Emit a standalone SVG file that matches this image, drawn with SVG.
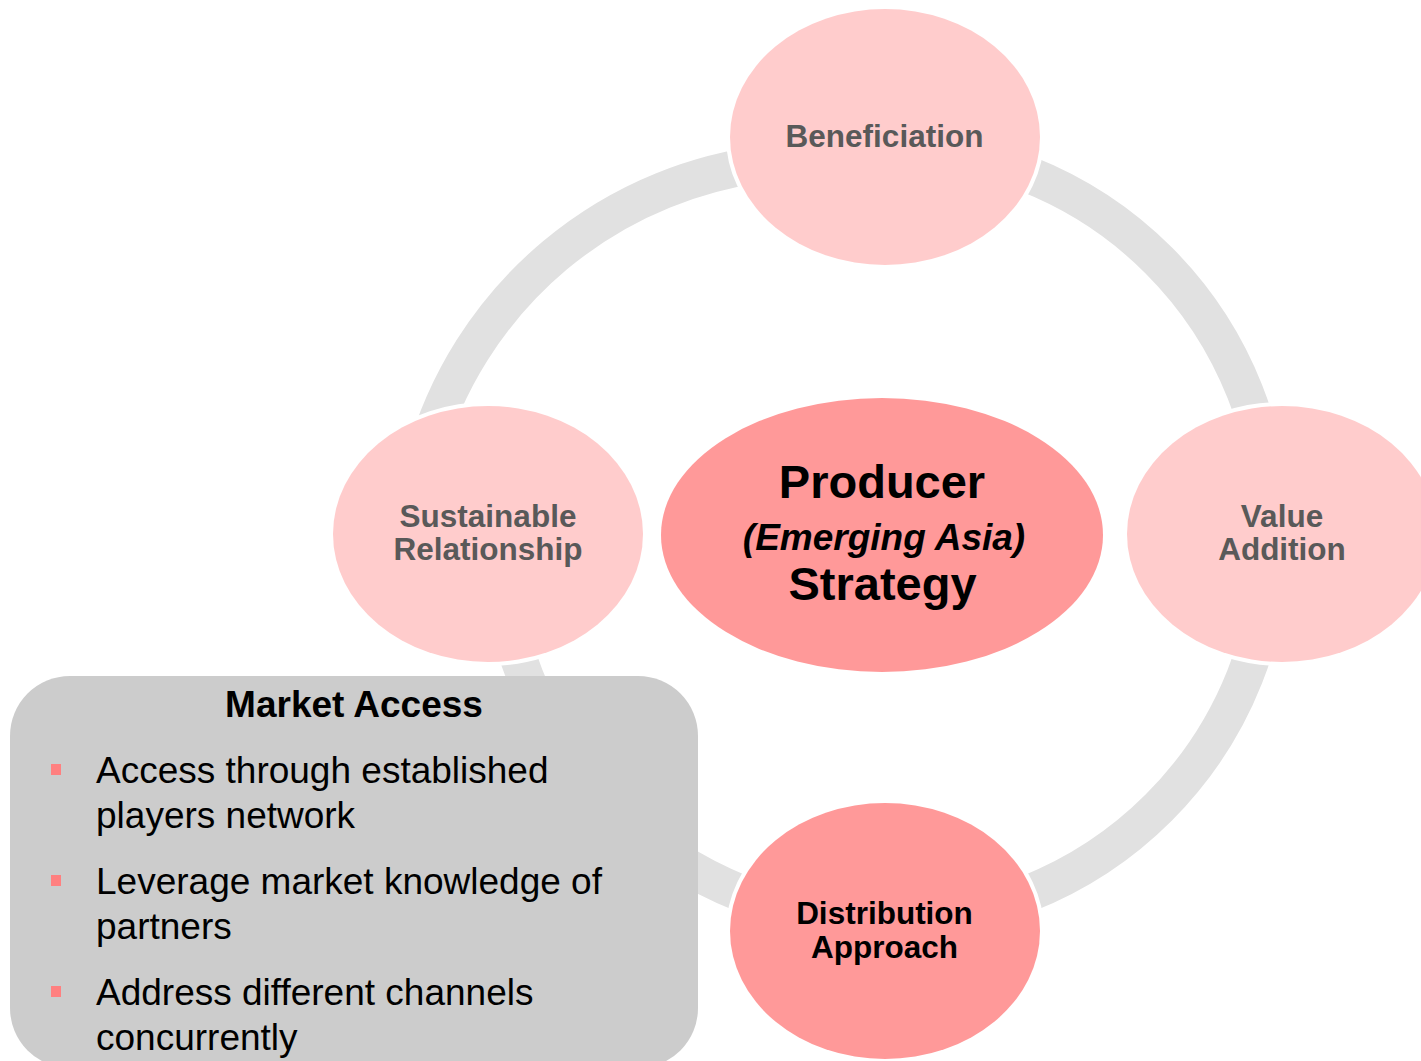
<svg xmlns="http://www.w3.org/2000/svg" width="1421" height="1061" viewBox="0 0 1421 1061">
<style>
.arc{fill:none;stroke:#e1e1e1;stroke-width:37;stroke-linecap:butt}
.node{stroke:#ffffff;stroke-width:8;paint-order:stroke fill}
.light{fill:#ffcccc}
.dark{fill:#ff9999}
.lbl{font-family:"Liberation Sans",Arial,sans-serif;font-weight:bold;font-size:31.5px;fill:#595959;text-anchor:middle}
.lblk{fill:#000000}
.ctr{font-family:"Liberation Sans",Arial,sans-serif;font-weight:bold;fill:#000000;text-anchor:middle}
.box{fill:#cccccc}
.bt{font-family:"Liberation Sans",Arial,sans-serif;font-size:37px;fill:#000000}
.bul{fill:#ff8080}
</style>
<rect width="1421" height="1061" fill="#ffffff"/>
<g id="connectors">
<path class="arc" d="M 423.8 460 A 406.5 406.5 0 0 1 780 162.1"/>
<path class="arc" d="M 885 147 A 387 387 0 0 1 1272 534"/>
<path class="arc" d="M 1272 534 A 387 387 0 0 1 885 921"/>
<path class="arc" d="M 885 921 A 387 387 0 0 1 498 534"/>
</g>
<g id="beneficiation">
<ellipse class="node light" cx="885" cy="137" rx="155" ry="128"/>
<text class="lbl" x="884.5" y="147">Beneficiation</text>
</g>
<g id="value-addition">
<ellipse class="node light" cx="1282" cy="534" rx="155" ry="128"/>
<text class="lbl" x="1282" y="527">Value</text>
<text class="lbl" x="1282" y="560">Addition</text>
</g>
<g id="distribution-approach">
<ellipse class="node dark" cx="885" cy="931" rx="155" ry="128"/>
<text class="lbl lblk" x="884.5" y="924">Distribution</text>
<text class="lbl lblk" x="884.5" y="958">Approach</text>
</g>
<g id="sustainable-relationship">
<ellipse class="node light" cx="488" cy="534" rx="155" ry="128"/>
<text class="lbl" x="488" y="527">Sustainable</text>
<text class="lbl" x="488" y="560">Relationship</text>
</g>
<g id="producer-strategy">
<ellipse class="node dark" cx="882" cy="535" rx="221" ry="137"/>
<text class="ctr" x="882" y="498" font-size="47">Producer</text>
<text class="ctr" x="884" y="550" font-size="37" font-style="italic">(Emerging Asia)</text>
<text class="ctr" x="882.5" y="600" font-size="47">Strategy</text>
</g>
<g id="market-access">
<rect class="box" x="10" y="676" width="688" height="392" rx="60" ry="60"/>
<text class="ctr" x="354" y="717" font-size="37">Market Access</text>
<rect class="bul" x="51" y="764" width="10" height="11"/>
<text class="bt" x="96" y="783">Access through established</text>
<text class="bt" x="96" y="828">players network</text>
<rect class="bul" x="51" y="875" width="10" height="11"/>
<text class="bt" x="96" y="894">Leverage market knowledge of</text>
<text class="bt" x="96" y="939">partners</text>
<rect class="bul" x="51" y="986" width="10" height="11"/>
<text class="bt" x="96" y="1005">Address different channels</text>
<text class="bt" x="96" y="1050">concurrently</text>
</g>
</svg>
